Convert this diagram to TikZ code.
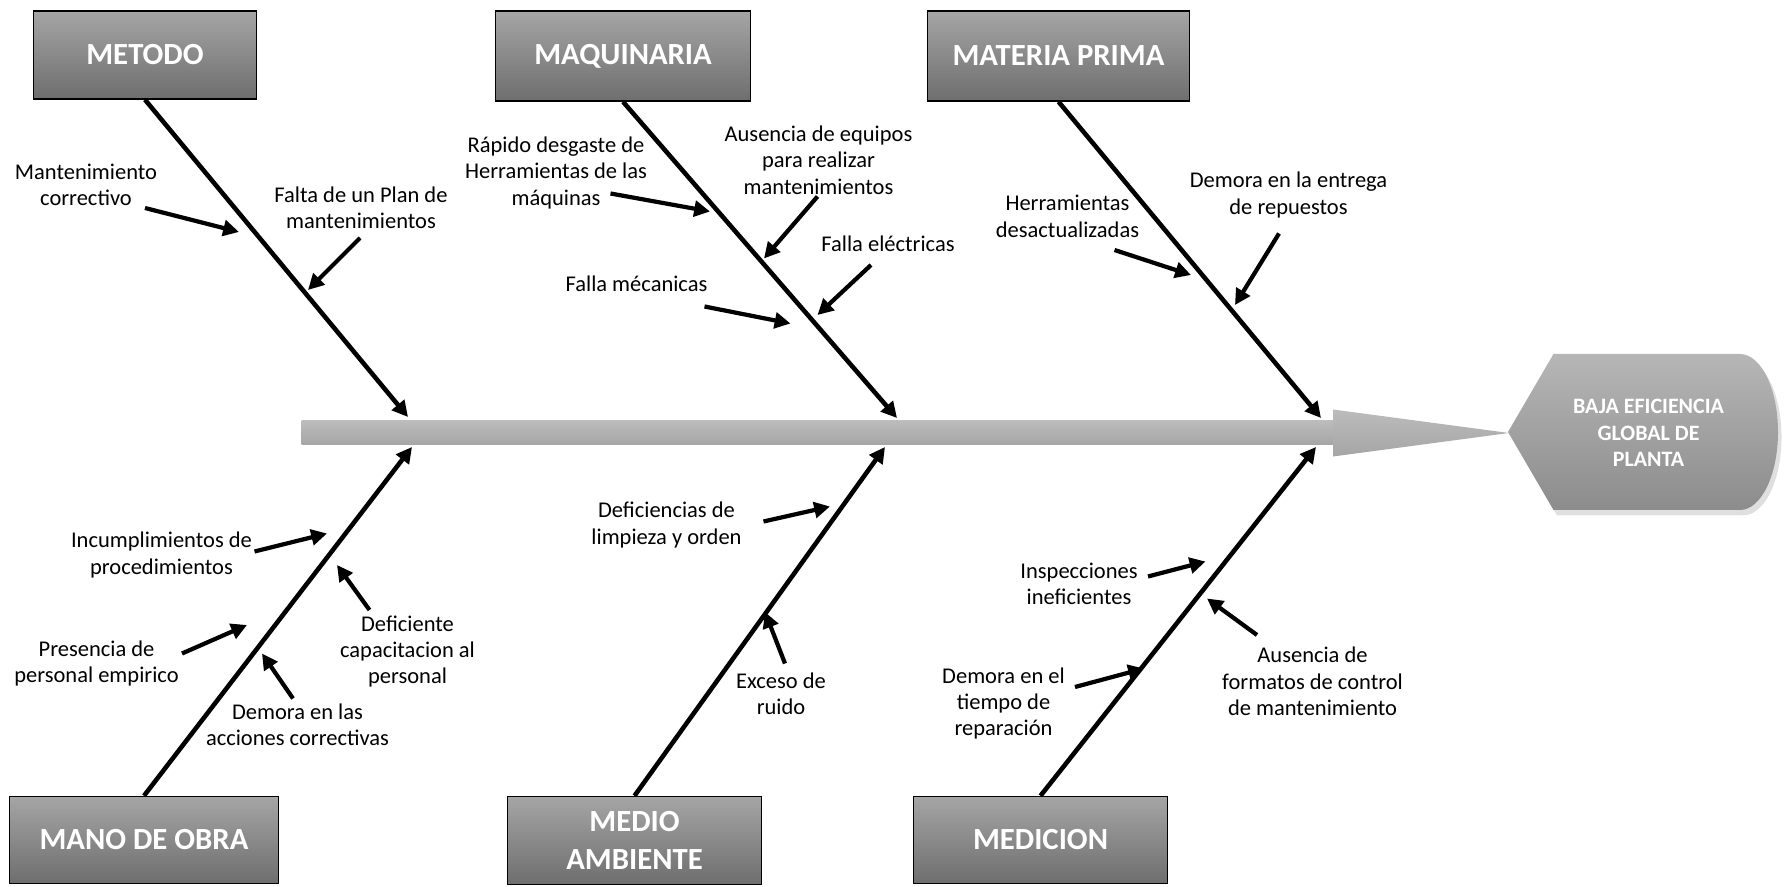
\documentclass[tikz,border=0pt]{standalone}
\usepackage{fontspec}
\setmainfont{Carlito}
\usetikzlibrary{arrows.meta,shadows}
\definecolor{boxtop}{RGB}{165,165,165}
\definecolor{boxbot}{RGB}{110,110,110}
\definecolor{spinetop}{RGB}{188,188,188}
\definecolor{spinebot}{RGB}{165,165,165}
\definecolor{headtop}{RGB}{182,182,182}
\definecolor{headbot}{RGB}{140,140,140}
\tikzstyle{catbox}=[draw=black,line width=0.8pt,top color=boxtop,bottom color=boxbot,text=white,font=\fontsize{17.5}{22}\selectfont\bfseries,align=center,inner sep=0pt]
\tikzstyle{lbl}=[align=center,font=\fontsize{12.8}{15}\selectfont,inner sep=0pt]
\tikzstyle{bone}=[line width=2.6pt,-{Triangle[length=9pt,width=9pt]}]
\tikzstyle{cause}=[line width=2.4pt,-{Triangle[length=9pt,width=9pt]}]

\begin{document}
\begin{tikzpicture}
		%\draw[help lines] (0,0) grid (36,18);
		\useasboundingbox (0,0) rectangle (35.82,17.72);
		
		% spine and effect
		\shade[top color=spinetop,bottom color=spinebot] (6.03,8.82) rectangle (26.66,9.30);%spine
		\shade[top color=spinetop,bottom color=spinebot] (26.66,9.53) -- (30.18,9.06) -- (26.66,8.59) -- cycle;%spine tip
		\path[top color=headtop,bottom color=headbot,drop shadow={opacity=0.25,shadow xshift=2pt,shadow yshift=-3pt}]
		(30.16,9.08) -- (31.07,10.64) -- (34.80,10.64)
		arc[start angle=90,end angle=-90,x radius=0.76,y radius=1.56]
		-- (31.07,7.52) -- cycle;%head
		\node[text=white,align=center,font=\fontsize{12.5}{15}\selectfont\bfseries] (efecto) at (32.97,9.06) {BAJA EFICIENCIA\\GLOBAL DE\\PLANTA};
		
		% categories
		\node[catbox,minimum width=4.45cm,minimum height=1.76cm] (metodo) at (2.90,16.62) {METODO};
		\node[catbox,minimum width=5.09cm,minimum height=1.80cm] (maquinaria) at (12.46,16.60) {MAQUINARIA};
		\node[catbox,minimum width=5.24cm,minimum height=1.80cm] (materia) at (21.17,16.60) {MATERIA PRIMA};
		\node[catbox,minimum width=5.38cm,minimum height=1.74cm] (manoobra) at (2.88,0.92) {MANO DE OBRA};
		\node[catbox,minimum width=5.09cm,minimum height=1.76cm] (medio) at (12.69,0.91) {MEDIO\\AMBIENTE};
		\node[catbox,minimum width=5.07cm,minimum height=1.74cm] (medicion) at (20.81,0.92) {MEDICION};
		
		% bones
		\coordinate (metodoEnd) at (8.16,9.38);
		\coordinate (maquinariaEnd) at (17.94,9.36);
		\coordinate (materiaEnd) at (26.42,9.36);
		\coordinate (manoobraEnd) at (8.24,8.78);
		\coordinate (medioEnd) at (17.70,8.78);
		\coordinate (medicionEnd) at (26.32,8.78);
		\draw[bone] (metodo.south) -- (metodoEnd);
		\draw[bone] (maquinaria.south) -- (maquinariaEnd);
		\draw[bone] (materia.south) -- (materiaEnd);
		\draw[bone] (manoobra.north) -- (manoobraEnd);
		\draw[bone] (medio.north) -- (medioEnd);
		\draw[bone] (medicion.north) -- (medicionEnd);
		
		% METODO
		\node[lbl] (correctivo) at (1.72,14.02) {Mantenimiento\\correctivo};
		\coordinate (correctivoA) at (2.90,13.56); \coordinate (correctivoB) at (4.78,13.08);
		\draw[cause] (correctivoA) -- (correctivoB);
		\node[lbl] (plan) at (7.22,13.57) {Falta de un Plan de\\mantenimientos};
		\coordinate (planA) at (7.20,12.96); \coordinate (planB) at (6.16,11.92);
		\draw[cause] (planA) -- (planB);
		
		% MAQUINARIA
		\node[lbl] (desgaste) at (11.12,14.26) {Rápido desgaste de\\Herramientas de las\\máquinas};
		\coordinate (desgasteA) at (12.21,13.85); \coordinate (desgasteB) at (14.20,13.49);
		\draw[cause] (desgasteA) -- (desgasteB);
		\node[lbl] (equipos) at (16.37,14.52) {Ausencia de equipos\\para realizar\\mantenimientos};
		\coordinate (equiposA) at (16.35,13.79); \coordinate (equiposB) at (15.28,12.55);
		\draw[cause] (equiposA) -- (equiposB);
		\node[lbl] (electricas) at (17.76,12.85) {Falla eléctricas};
		\coordinate (electricasA) at (17.42,12.42); \coordinate (electricasB) at (16.35,11.42);
		\draw[cause] (electricasA) -- (electricasB);
		\node[lbl] (mecanicas) at (12.73,12.05) {Falla mécanicas};
		\coordinate (mecanicasA) at (14.09,11.59); \coordinate (mecanicasB) at (15.81,11.25);
		\draw[cause] (mecanicasA) -- (mecanicasB);
		
		% MATERIA PRIMA
		\node[lbl] (desact) at (21.35,13.39) {Herramientas\\desactualizadas};
		\coordinate (desactA) at (22.29,12.72); \coordinate (desactB) at (23.82,12.22);
		\draw[cause] (desactA) -- (desactB);
		\node[lbl] (repuestos) at (25.77,13.82) {Demora en la entrega\\de repuestos};
		\coordinate (repuestosA) at (25.58,13.05); \coordinate (repuestosB) at (24.70,11.62);
		\draw[cause] (repuestosA) -- (repuestosB);
		
		% MANO DE OBRA
		\node[lbl] (incumpl) at (3.23,6.62) {Incumplimientos de\\procedimientos};
		\coordinate (incumplA) at (5.09,6.69); \coordinate (incumplB) at (6.54,7.05);
		\draw[cause] (incumplA) -- (incumplB);
		\node[lbl] (capacit) at (8.15,4.69) {Deficiente\\capacitacion al\\personal};
		\coordinate (capacitA) at (7.39,5.52); \coordinate (capacitB) at (6.74,6.42);
		\draw[cause] (capacitA) -- (capacitB);
		\node[lbl] (empirico) at (1.93,4.45) {Presencia de\\personal empirico};
		\coordinate (empiricoA) at (3.64,4.65); \coordinate (empiricoB) at (4.94,5.22);
		\draw[cause] (empiricoA) -- (empiricoB);
		\node[lbl] (acciones) at (5.95,3.22) {Demora en las\\acciones correctivas};
		\coordinate (accionesA) at (5.86,3.75); \coordinate (accionesB) at (5.24,4.65);
		\draw[cause] (accionesA) -- (accionesB);
		
		% MEDIO AMBIENTE
		\node[lbl] (limpieza) at (13.33,7.22) {Deficiencias de\\limpieza y orden};
		\coordinate (limpiezaA) at (15.27,7.29); \coordinate (limpiezaB) at (16.60,7.59);
		\draw[cause] (limpiezaA) -- (limpiezaB);
		\node[lbl] (ruido) at (15.62,3.85) {Exceso de\\ruido};
		\coordinate (ruidoA) at (15.70,4.45); \coordinate (ruidoB) at (15.30,5.48);
		\draw[cause] (ruidoA) -- (ruidoB);
		
		% MEDICION
		\node[lbl] (inspec) at (21.58,6.04) {Inspecciones\\ineficientes};
		\coordinate (inspecA) at (22.96,6.19); \coordinate (inspecB) at (24.11,6.49);
		\draw[cause] (inspecA) -- (inspecB);
		\node[lbl] (formatos) at (26.25,4.09) {Ausencia de\\formatos de control\\de mantenimiento};
		\coordinate (formatosA) at (25.14,5.02); \coordinate (formatosB) at (24.14,5.75);
		\draw[cause] (formatosA) -- (formatosB);
		\node[lbl] (reparacion) at (20.07,3.65) {Demora en el\\tiempo de\\reparación};
		\coordinate (reparacionA) at (21.50,3.98); \coordinate (reparacionB) at (22.88,4.35);
		\draw[cause] (reparacionA) -- (reparacionB);
\end{tikzpicture}
\end{document}
